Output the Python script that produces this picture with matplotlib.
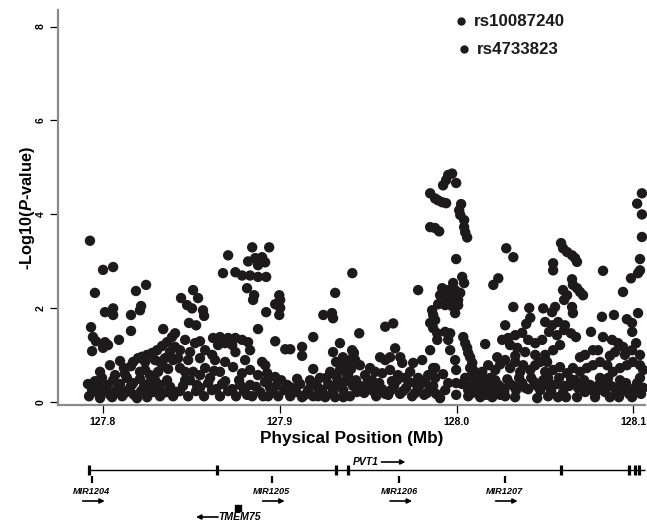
import matplotlib
matplotlib.use('Agg')
import matplotlib.pyplot as plt

# ---------------- data ----------------
positions = [
 127.7928,127.8002,127.8059,127.7956,127.8188,127.8245,127.8217,127.8211,127.8013,127.8059,
 127.8059,127.8160,127.7934,127.8160,127.8342,127.7945,127.7962,127.8013,127.8002,127.8092,
 127.7940,127.8030,127.8172,127.8200,127.8222,127.8251,127.8279,127.8307,127.8336,127.8364,
 127.8392,127.8240,127.8296,127.8324,127.8352,127.8380,127.8409,127.8341,127.8370,127.8398,
 127.8313,127.8041,127.8098,127.8120,127.8160,127.7985,127.8070,127.8211,127.7956,127.7996,
 127.8030,127.8059,127.8098,127.8137,127.8172,127.8211,127.8256,127.8296,127.7940,127.7973,
 127.8007,127.8041,127.8075,127.8110,127.8143,127.8177,127.8217,127.8251,127.8285,127.8324,
 127.8364,127.8398,127.8324,127.8364,
 127.8709,127.8845,127.8941,127.8822,127.8862,127.8901,127.8878,127.8918,127.8680,127.8750,
 127.8788,127.8833,127.8878,127.8924,127.8816,127.8856,127.8850,127.8924,127.8878,
 127.8443,127.8511,127.8539,127.8477,127.8505,127.8567,127.8573,127.8488,127.8528,127.8409,
 127.8466,127.8522,127.8550,127.8624,127.8663,127.8709,127.8750,127.8788,127.8652,127.8692,
 127.8732,127.8822,127.8437,127.8494,127.8579,127.8619,127.8750,127.8833,127.8426,127.8483,
 127.8550,127.8635,127.8692,127.8805,127.8901,127.8437,127.8511,127.8579,127.8663,127.8737,
 127.8833,127.8878,127.8466,127.8533,127.8607,127.8675,127.8771,127.8833,127.8918,127.8437,
 127.8483,127.8528,127.8573,127.8618,127.8663,127.8709,127.8754,127.8799,127.8845,127.8890,
 127.8935,
 127.8998,127.9003,127.8975,127.9003,127.8998,127.9411,127.9314,127.9247,127.9296,127.9302,
 127.9190,127.8975,127.9032,127.9060,127.9127,127.9127,127.9341,127.9302,127.8919,127.9190,
 127.8930,127.8930,127.8975,127.9099,127.9043,127.8958,127.8992,127.9026,127.9060,127.9094,
 127.9127,127.9161,127.9190,127.9218,127.9247,127.9275,127.9302,127.9330,127.9360,127.9387,
 127.9415,127.9286,127.9341,127.9370,127.9398,127.9420,127.9319,127.9358,127.9172,127.9228,
 127.9218,127.9314,127.9398,127.9437,
 127.9450,127.9597,127.9642,127.9653,127.9783,127.9415,127.9568,127.9597,127.9682,127.9693,
 127.9755,127.9806,127.9851,127.9868,127.9454,127.9511,127.9483,127.9540,127.9624,127.9669,
 127.9738,127.9783,127.9840,127.9444,127.9478,127.9512,127.9546,127.9580,127.9614,127.9647,
 127.9681,127.9715,127.9749,127.9783,127.9817,127.9851,127.9885,127.9522,127.9635,127.9766,
 127.9975,127.9953,127.9941,127.9924,127.9998,127.9851,127.9879,127.9896,127.9919,127.9941,
 128.0026,128.0015,128.0021,128.0043,128.0043,128.0049,128.0060,127.9851,127.9879,127.9902,
 127.9998,127.9981,128.0032,128.0043,127.9919,127.9953,127.9992,128.0021,127.9975,128.0009,
 127.9907,127.9936,127.9896,127.9936,127.9975,128.0009,127.9862,127.9868,127.9879,127.9992,
 127.9851,127.9868,127.9891,127.9891,127.9936,127.9964,127.9953,127.9964,127.9992,127.9998,
 127.9998,127.9998,127.9879,127.9879,127.9953,128.0038,128.0049,128.0060,128.0066,128.0077,
 128.0089,128.0094,128.0105,
 128.0281,128.0321,128.0236,128.0208,128.0321,128.0411,128.0490,128.0417,128.0394,128.0275,
 128.0162,128.0258,128.0292,128.0332,128.0371,128.0405,128.0445,128.0484,128.0303,128.0343,
 128.0230,128.0275,128.0332,128.0388,128.0445,128.0473,128.0179,128.0219,128.0303,128.0360,
 128.0417,128.0501,128.0032,128.0066,128.0100,128.0134,128.0168,128.0202,128.0236,128.0270,
 128.0303,128.0337,128.0371,128.0405,128.0439,128.0473,128.0049,128.0122,128.0190,128.0066,
 128.0134,128.0202,128.0275,128.0331,128.0456,
 128.1048,128.1021,128.1048,128.1048,128.1037,128.1037,128.1026,128.0986,128.0941,128.0828,
 128.1026,128.0963,128.0992,128.0822,128.0890,128.0591,128.0602,128.0625,128.0653,128.0670,
 128.0681,128.0546,128.0546,128.0653,128.0658,128.0681,128.0698,128.0715,128.0602,128.0625,
 128.0608,128.0653,128.0658,128.0557,128.0540,128.0501,128.0540,128.0574,128.0613,128.0523,
 128.0568,128.0608,128.0647,128.0675,128.0760,128.0771,128.0828,128.0879,128.0913,128.0941,
 128.1015,128.0992,128.0952,128.1037,128.0512,128.0546,128.0585,128.0625,128.0658,128.0698,
 128.0737,128.0771,128.0811,128.0852,128.0884,128.0924,128.0963,128.0997,128.1037,128.0501,
 128.0698,128.0867,128.0501,128.0535,128.0569,128.0603,128.0637,128.0670,128.0704,128.0727,
 128.0766,128.0805,128.0839,128.0873,128.0907,128.0941,128.0975,128.1009,128.1043,128.0518,
 128.0619,128.0918,128.0811,128.0924,128.1037,127.9410,127.9624,128.0993,
 # additional low-band SNPs
 127.7923,127.7958,127.7985,127.8019,127.8053,127.8087,127.8126,127.8160,127.8194,127.8234,
 127.8267,127.8307,127.8341,127.8381,127.8415,127.8126,127.8240,127.8267,127.7985,127.7917,
 127.8454,127.8494,127.8550,127.8596,127.8641,127.8692,127.8732,127.8777,127.8816,127.8867,
 127.8907,127.8946,127.8466,127.8630,127.8788,127.8550,
 127.8981,127.9009,127.9071,127.9116,127.9144,127.9178,127.9206,127.9240,127.9263,127.9291,
 127.9319,127.9341,127.9375,127.9404,127.9432,127.9427,127.9375,127.9258,127.9360,
 127.9461,127.9495,127.9529,127.9563,127.9597,127.9630,127.9664,127.9698,127.9732,127.9766,
 127.9800,127.9834,127.9868,127.9907,127.9936,127.9580,127.9709,127.9823,127.9924,
 128.0055,128.0083,128.0117,128.0151,128.0185,128.0219,128.0253,128.0287,128.0320,128.0354,
 128.0388,128.0422,128.0456,128.0490,128.0089,128.0168,128.0247,128.0077,128.0145,128.0247,
 128.0377,128.0445,128.0332,
 128.0518,128.0546,128.0580,128.0614,128.0648,128.0687,128.0721,128.0755,128.0789,128.0828,
 128.0857,128.0891,128.0924,128.0958,128.0992,128.1021,128.1055,128.0574,128.0681,128.0783,
 128.0867,128.0992,128.0546,128.0585,128.0726,128.0800,128.0896,128.1055,
]
neglogp = [
 3.44,2.82,2.88,2.33,2.37,2.50,2.05,1.96,1.92,2.00,
 1.86,1.86,1.60,1.52,1.56,1.39,1.30,1.28,1.16,1.33,
 1.09,1.22,0.86,0.94,0.97,1.01,1.05,1.11,1.20,1.28,
 1.39,0.86,0.90,0.86,0.94,1.07,1.18,0.77,0.71,0.90,
 0.65,0.79,0.88,0.73,0.77,0.65,0.58,0.65,0.45,0.52,
 0.37,0.47,0.39,0.52,0.41,0.50,0.39,0.47,0.26,0.20,
 0.28,0.16,0.24,0.13,0.26,0.16,0.24,0.11,0.22,0.13,
 0.22,0.13,0.37,0.47,
 3.13,3.30,3.30,3.00,3.07,3.09,2.92,2.98,2.75,2.77,
 2.70,2.70,2.67,2.67,2.43,2.28,2.18,1.92,1.56,
 2.22,2.39,2.22,2.07,2.00,1.96,1.84,1.69,1.64,1.47,
 1.33,1.26,1.30,1.37,1.39,1.37,1.37,1.33,1.22,1.26,
 1.22,1.28,1.11,1.07,1.11,1.01,1.07,1.11,0.94,0.90,
 0.94,0.90,0.86,0.90,0.86,0.73,0.65,0.73,0.65,0.75,
 0.69,0.58,0.47,0.37,0.52,0.39,0.47,0.37,0.43,0.24,
 0.13,0.24,0.13,0.26,0.13,0.24,0.13,0.24,0.13,0.22,
 0.13,
 2.28,2.18,2.09,2.01,1.86,2.75,2.33,1.86,1.90,1.79,
 1.39,1.30,1.13,1.13,1.18,0.99,1.26,1.07,0.79,0.71,
 0.62,0.47,0.54,0.50,0.37,0.22,0.13,0.26,0.13,0.22,
 0.11,0.26,0.13,0.31,0.18,0.39,0.22,0.47,0.26,0.58,
 0.35,0.65,0.69,0.79,0.90,1.05,0.86,0.96,0.47,0.52,
 0.13,0.11,0.13,0.22,
 1.47,1.61,1.68,1.15,2.39,1.07,0.96,0.90,0.96,0.84,
 0.84,0.90,1.11,0.73,0.79,0.73,0.58,0.65,0.69,0.58,
 0.65,0.52,0.58,0.37,0.20,0.35,0.13,0.28,0.16,0.35,
 0.18,0.31,0.13,0.28,0.16,0.31,0.18,0.47,0.45,0.41,
 4.87,4.84,4.73,4.62,4.67,4.45,4.34,4.30,4.26,4.24,
 4.22,4.09,3.99,3.88,3.73,3.62,3.51,3.73,3.71,3.64,
 3.05,2.54,2.67,2.54,2.43,2.39,2.39,2.33,2.22,2.18,
 2.28,2.24,2.09,2.07,2.05,2.07,1.96,1.86,1.75,1.90,
 1.69,1.58,1.47,1.33,1.50,1.47,1.33,1.11,0.90,0.69,
 0.41,0.16,0.73,0.52,0.41,1.39,1.26,1.16,1.05,0.96,
 0.84,0.69,0.54,
 3.28,3.09,2.64,2.50,2.03,2.01,2.00,1.80,1.67,1.64,
 1.24,1.33,1.37,1.43,1.48,1.33,1.26,1.33,1.22,1.16,
 0.96,0.90,0.99,1.07,1.01,0.86,0.79,0.69,0.73,0.65,
 0.69,0.65,0.39,0.26,0.37,0.24,0.35,0.22,0.37,0.24,
 0.39,0.26,0.41,0.28,0.43,0.26,0.52,0.47,0.52,0.13,
 0.11,0.11,0.13,0.11,0.09,
 4.45,4.23,4.00,3.52,3.05,2.81,2.75,2.64,2.35,2.80,
 1.90,1.77,1.69,1.82,1.86,3.39,3.28,3.20,3.13,3.07,
 2.99,2.96,2.81,2.62,2.50,2.43,2.35,2.28,2.39,2.28,
 2.18,2.03,1.90,2.03,1.92,1.71,1.64,1.71,1.64,1.50,
 1.43,1.54,1.47,1.39,1.50,1.11,1.39,1.33,1.26,1.18,
 1.26,1.11,1.01,1.01,0.86,0.69,0.75,0.62,0.73,0.65,
 0.73,0.79,0.86,0.79,0.65,0.73,0.79,0.86,0.79,1.01,
 0.96,0.99,0.37,0.24,0.39,0.22,0.35,0.47,0.35,0.22,
 0.26,0.37,0.22,0.35,0.20,0.33,0.18,0.31,0.18,0.13,
 0.11,0.11,0.52,0.47,0.52,1.11,0.96,1.50,
 # additional low-band SNPs
 0.13,0.35,0.09,0.24,0.11,0.31,0.20,0.35,0.09,0.35,
 0.22,0.31,0.20,0.33,0.22,0.60,0.69,0.58,0.47,0.39,
 0.35,0.47,0.31,0.41,0.28,0.45,0.28,0.37,0.16,0.33,
 0.13,0.31,0.65,0.67,0.62,0.58,
 0.35,0.47,0.31,0.39,0.16,0.35,0.41,0.26,0.52,0.35,
 0.56,0.35,0.45,0.71,0.47,0.90,0.62,0.11,0.11,
 0.26,0.41,0.24,0.41,0.18,0.26,0.47,0.24,0.43,0.20,
 0.39,0.20,0.35,0.09,0.26,0.62,0.52,0.47,0.60,
 0.39,0.56,0.35,0.49,0.33,0.47,0.31,0.49,0.35,0.52,
 0.31,0.52,0.35,0.47,0.20,0.16,0.16,0.73,0.65,0.81,
 0.79,0.79,0.86,
 0.52,0.37,0.52,0.35,0.49,0.31,0.47,0.37,0.22,0.39,
 0.52,0.31,0.22,0.41,0.26,0.41,0.31,0.11,0.11,0.11,
 0.11,0.11,1.11,1.22,1.01,1.11,1.07,0.69,
]

xticks = [127.8, 127.9, 128.0, 128.1]
xtick_labels = ['127.8', '127.9', '128.0', '128.1']
yticks = [0, 2, 4, 6, 8]
ytick_labels = ['0', '2', '4', '6', '8']
snp_labels = ['rs10087240', 'rs4733823']

# gene track
pvt1_span = [127.7924, 128.1066]
pvt1_exons = [127.7924, 127.8648, 127.9319, 127.9389, 128.0592, 128.0977, 128.1009, 128.1031]
mir_names = ['MIR1204', 'MIR1205', 'MIR1206', 'MIR1207']
mir_pos = [127.7938, 127.8955, 127.9675, 128.0272]
tmem75_pos = 127.8765

# ---------------- style ----------------
plt.rcParams['font.family'] = ['Liberation Sans', 'DejaVu Sans']
plt.rcParams['font.weight'] = 'bold'
plt.rcParams['mathtext.fontset'] = 'custom'
plt.rcParams['mathtext.it'] = 'Liberation Sans:italic:bold'
plt.rcParams['mathtext.rm'] = 'Liberation Sans:bold'

fig = plt.figure(figsize=(6.47, 5.21), dpi=100)
ax = fig.add_axes([0.0901, 0.2226, 0.907, 0.758])
ax.scatter(positions, neglogp, s=56, c='#1c1a1a', edgecolors='none',
           clip_on=False, zorder=3)
xmin, xmax = 127.7749, 128.1066
ax.set_xlim(xmin, xmax)
ax.set_ylim(-0.057, 8.35)

for s in ['top', 'right']:
    ax.spines[s].set_visible(False)
for s in ['left', 'bottom']:
    ax.spines[s].set_color('#8a8a8a')
    ax.spines[s].set_linewidth(1.6)

ax.set_xticks(xticks)
ax.set_xticklabels(xtick_labels, fontsize=7.5, fontweight='bold')
ax.set_yticks(yticks)
ax.set_yticklabels(ytick_labels, fontsize=7.5, fontweight='bold',
                   rotation=90, va='center')
ax.tick_params(axis='both', direction='out', length=5.8, width=0.9,
               color='black', pad=3)
ax.set_xlabel('Physical Position (Mb)', fontsize=12.3, fontweight='bold',
              labelpad=3)
ax.set_ylabel(r'-Log10($\it{P}$-value)', fontsize=11.8, fontweight='bold',
              labelpad=-1)

# ---------------- overlay (legend text + gene track) ----------------
gx = fig.add_axes([0.0901, 0.0, 0.907, 1.0], zorder=5)
gx.set_xlim(xmin, xmax)
gx.set_ylim(521, 0)
gx.axis('off')
gx.patch.set_alpha(0)

px2mb = (xmax - xmin) / (0.907 * 647)

# SNP labels at top right
snp_y = [21, 49]
snp_x = [127.8 + (460.5 - 102.7) / 1768.7, 127.8 + (463.5 - 102.7) / 1768.7]
for lab, yy, x0 in zip(snp_labels, snp_y, snp_x):
    gx.plot([x0], [yy], 'o', color='#1c1a1a', ms=5.0, clip_on=False)
    gx.text(x0 + 13 * px2mb, yy, lab, fontsize=12.2, fontweight='bold',
            va='center', ha='left', color='#1c1a1a')

# PVT1 line
line_y = 470
gx.plot(pvt1_span, [line_y, line_y], color='black', lw=1.0, clip_on=False,
        solid_capstyle='butt')
gx.vlines(pvt1_exons, line_y - 5, line_y + 5, color='black', lw=2.3)
gx.text(pvt1_exons[3] + 4 * px2mb, line_y - 8, 'PVT1', fontsize=7.5,
        fontstyle='italic', fontweight='bold', ha='left', va='center')
a_start = pvt1_exons[3] + 33 * px2mb
gx.annotate('', xy=(a_start + 24 * px2mb, line_y - 8), xytext=(a_start, line_y - 8),
            arrowprops=dict(arrowstyle='-|>', lw=1.2, color='black',
                            mutation_scale=7, shrinkA=0, shrinkB=0))

# miRNAs
for name, p in zip(mir_names, mir_pos):
    gx.vlines([p], line_y + 6, line_y + 13, color='black', lw=1.6)
    gx.text(p, line_y + 21, name, fontsize=6.6, fontstyle='italic',
            fontweight='bold', ha='center', va='center')
    a0 = p - 9 * px2mb
    gx.annotate('', xy=(a0 + 22 * px2mb, line_y + 31), xytext=(a0, line_y + 31),
                arrowprops=dict(arrowstyle='-|>', lw=1.2, color='black',
                                mutation_scale=7, shrinkA=0, shrinkB=0))

# TMEM75
gx.plot([tmem75_pos], [508], 's', color='black', ms=4.5)
gx.text(tmem75_pos - 20 * px2mb, 517, 'TMEM75', fontsize=7.6, fontstyle='italic',
        fontweight='bold', ha='left', va='center')
gx.annotate('', xy=(tmem75_pos - 42 * px2mb, 517), xytext=(tmem75_pos - 20 * px2mb, 517),
            arrowprops=dict(arrowstyle='-|>', lw=1.2, color='black',
                            mutation_scale=7, shrinkA=0, shrinkB=0))

fig.savefig('out.png', dpi=100)
